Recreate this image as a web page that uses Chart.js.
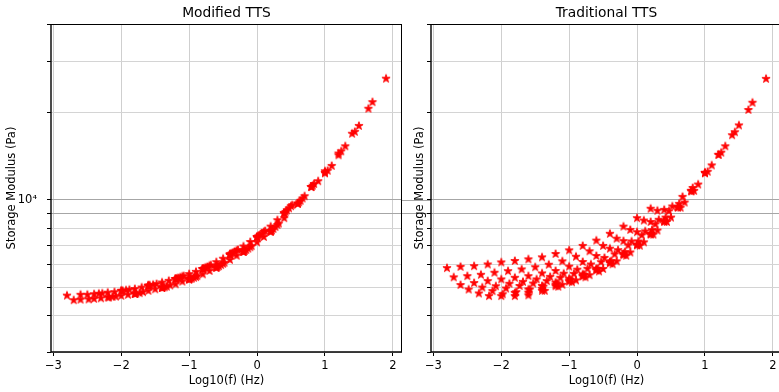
<!DOCTYPE html>
<html>
<head>
<meta charset="utf-8">
<script src="https://cdn.jsdelivr.net/npm/chart.js@4/dist/chart.umd.min.js"></script>
<style>
  html, body { margin: 0; padding: 0; background: #ffffff; width: 779px; height: 392px; overflow: hidden; }
  canvas { position: absolute; top: 0; }
  #cMod { left: 0px; }
  #cTrad { left: 380px; }
</style>
</head>
<body>
<canvas id="cMod" width="410" height="392"></canvas>
<canvas id="cTrad" width="410" height="392"></canvas>
<script>
// ---------------- DATA ----------------
const chartTitles = ['Modified TTS', 'Traditional TTS'];
const xAxisTitle = 'Log10(f) (Hz)';
const yAxisTitle = 'Storage Modulus (Pa)';
const xTickValues = [-3, -2, -1, 0, 1, 2];
const yTickValues = [3000, 4000, 5000, 6000, 7000, 8000, 9000, 10000, 20000, 30000, 40000];
const yTickLabels = ['', '', '', '', '', '', '', '10\u2074', '', '', ''];

// Each frequency sweep: log10(f) positions, traditional-shift modulus, modified-shift modulus
const rowA_x    = [-2.8, -2.6, -2.4, -2.2, -2.0, -1.8, -1.6, -1.4, -1.2, -1.0, -0.8, -0.6, -0.4, -0.2, 0.0, 0.2];
const rowA_trad = [5830, 5890, 5920, 6000, 6100, 6170, 6250, 6350, 6520, 6710, 6950, 7250, 7650, 8100, 8660, 9330];
const rowA_mod  = [4690, 4540, 4740, 4620, 4870, 4760, 5060, 5000, 5340, 5350, 5780, 5870, 6480, 6650, 7420, 7820];

const rowB_x    = [-2.7, -2.5, -2.3, -2.1, -1.9, -1.7, -1.5, -1.3, -1.1, -0.9, -0.7, -0.5, -0.3, -0.1, 0.1, 0.3];
const rowB_trad = [5420, 5470, 5530, 5620, 5690, 5770, 5870, 5990, 6150, 6380, 6660, 6950, 7360, 7890, 8500, 9180];
const rowB_mod  = [4520, 4720, 4590, 4820, 4720, 5000, 4930, 5270, 5240, 5660, 5700, 6280, 6430, 7170, 7460, 8520];

const rowC_x    = [-2.6, -2.4, -2.2, -2.0, -1.8, -1.6, -1.4, -1.2, -1.0, -0.8, -0.6, -0.4, -0.2, 0.0, 0.2, 0.4];
const rowC_trad = [5100, 5180, 5260, 5330, 5400, 5470, 5590, 5700, 5900, 6120, 6420, 6800, 7220, 7750, 8400, 9250];
const rowC_mod  = [4720, 4570, 4800, 4680, 4940, 4870, 5200, 5130, 5560, 5550, 6110, 6220, 6920, 7150, 8100, 8660];

const rowD_x    = [-2.48, -2.28, -2.08, -1.88, -1.68, -1.48, -1.28, -1.08, -0.88, -0.68, -0.48, -0.28, -0.08, 0.12, 0.32, 0.52];
const rowD_trad = [4920, 5000, 5050, 5150, 5230, 5330, 5440, 5580, 5760, 6000, 6320, 6720, 7200, 7800, 8550, 9500];
const rowD_mod  = [4550, 4770, 4650, 4910, 4820, 5140, 5080, 5470, 5470, 5960, 6080, 6730, 6940, 7820, 8300, 9600];

const rowE_x    = [-2.33, -2.13, -1.93, -1.73, -1.53, -1.33, -1.13, -0.93, -0.73, -0.53, -0.33, -0.13, 0.07, 0.27, 0.47, 0.67];
const rowE_trad = [4770, 4860, 4960, 5060, 5160, 5260, 5400, 5570, 5800, 6110, 6500, 6980, 7560, 8250, 9150, 10250];
const rowE_mod  = [4760, 4640, 4890, 4780, 5110, 5030, 5420, 5400, 5890, 5970, 6640, 6800, 7670, 8070, 9360, 10120];

const rowF_x    = [-2.18, -1.98, -1.78, -1.58, -1.38, -1.18, -0.98, -0.78, -0.58, -0.38, -0.18, 0.02, 0.22, 0.42, 0.62, 0.82];
const rowF_trad = [4670, 4740, 4820, 4920, 5030, 5160, 5320, 5530, 5800, 6160, 6620, 7200, 7880, 8700, 9700, 11000];
const rowF_mod  = [4620, 4870, 4760, 5080, 5000, 5360, 5350, 5810, 5890, 6530, 6680, 7510, 7860, 9100, 9820, 11200];

const rowG_x    = [-2.0, -1.8, -1.6, -1.4, -1.2, -1.0, -0.8, -0.6, -0.4, -0.2, 0.0, 0.2, 0.4, 0.6, 0.8, 1.0];
const rowG_trad = [4670, 4790, 4920, 5060, 5200, 5360, 5550, 5800, 6120, 6520, 7020, 7650, 8450, 9450, 10750, 12400];
const rowG_mod  = [4870, 4750, 5070, 4990, 5350, 5330, 5790, 5850, 6490, 6630, 7450, 7780, 9000, 9710, 11080, 12400];

const rowH_x    = [-1.8, -1.6, -1.4, -1.2, -1.0, -0.8, -0.6, -0.4, -0.2, 0.0, 0.2, 0.4, 0.6, 0.8, 1.0, 1.2];
const rowH_trad = [4670, 4800, 4950, 5110, 5280, 5480, 5740, 6060, 6460, 6980, 7600, 8400, 9400, 10700, 12350, 14300];
const rowH_mod  = [4750, 5070, 4990, 5350, 5330, 5790, 5850, 6490, 6630, 7450, 7780, 9000, 9710, 11080, 12350, 14450];

const rowI_x    = [-1.6, -1.4, -1.2, -1.0, -0.8, -0.6, -0.4, -0.2, 0.0, 0.2, 0.4, 0.6, 0.8, 1.0, 1.2, 1.4];
const rowI_trad = [4700, 4870, 5050, 5240, 5460, 5730, 6080, 6500, 7020, 7650, 8450, 9450, 10750, 12400, 14300, 16700];
const rowI_mod  = [5070, 4990, 5350, 5330, 5790, 5850, 6490, 6630, 7450, 7780, 9000, 9710, 11080, 12550, 14250, 16900];

const rowJ_x    = [-1.36, -1.16, -0.96, -0.76, -0.56, -0.36, -0.16, 0.04, 0.24, 0.44, 0.64, 0.84, 1.04, 1.24, 1.44, 1.64];
const rowJ_trad = [4870, 5030, 5210, 5420, 5680, 6010, 6430, 6960, 7600, 8400, 9400, 10750, 12500, 14550, 17100, 20400];
const rowJ_mod  = [5010, 5390, 5370, 5850, 5920, 6570, 6730, 7570, 7950, 9210, 9930, 11350, 12600, 14700, 17150, 20600];

const rowK_x    = [-1.1, -0.9, -0.7, -0.5, -0.3, -0.1, 0.1, 0.3, 0.5, 0.7, 0.9, 1.1, 1.3, 1.5, 1.7, 1.9];
const rowK_trad = [5110, 5290, 5510, 5790, 6150, 6600, 7150, 7850, 8700, 9800, 11300, 13150, 15300, 18050, 21600, 26100];
const rowK_mod  = [5450, 5430, 5940, 6030, 6700, 6880, 7770, 8200, 9520, 10300, 11600, 13100, 15300, 17980, 21700, 26140];

// ---------------- BUILD ----------------
const sweeps = [
  [rowA_x, rowA_trad, rowA_mod], [rowB_x, rowB_trad, rowB_mod], [rowC_x, rowC_trad, rowC_mod],
  [rowD_x, rowD_trad, rowD_mod], [rowE_x, rowE_trad, rowE_mod], [rowF_x, rowF_trad, rowF_mod],
  [rowG_x, rowG_trad, rowG_mod], [rowH_x, rowH_trad, rowH_mod], [rowI_x, rowI_trad, rowI_mod],
  [rowJ_x, rowJ_trad, rowJ_mod], [rowK_x, rowK_trad, rowK_mod]
];
const modPoints = sweeps.flatMap(([xs, t, m]) => xs.map((x, i) => ({ x: x, y: m[i] })));
const tradPoints = sweeps.flatMap(([xs, t, m]) => xs.map((x, i) => ({ x: x, y: t[i] })));

const FONT = 'DejaVu Sans';
const RED = '#ff0000';

function makeStar(r) {
  const s = Math.ceil(r * 2 + 3);
  const c = document.createElement('canvas');
  c.width = s; c.height = s;
  const g = c.getContext('2d');
  g.beginPath();
  for (let i = 0; i < 10; i++) {
    const a = -Math.PI / 2 + i * Math.PI / 5;
    const rr = (i % 2 === 0) ? r : r * 0.381966;
    g.lineTo(s / 2 + rr * Math.cos(a), s / 2 + rr * Math.sin(a));
  }
  g.closePath();
  g.fillStyle = RED; g.fill();
  g.strokeStyle = RED; g.lineWidth = 0.9; g.lineJoin = 'miter'; g.stroke();
  return c;
}
const starImg = makeStar(4.3);

const framePlugin = {
  id: 'frame',
  afterDatasetsDraw(chart) {
    const { ctx, chartArea: a } = chart;
    ctx.save();
    ctx.strokeStyle = '#000';
    ctx.lineWidth = 1;
    ctx.beginPath();
    ctx.moveTo(a.left, a.top + 0.5); ctx.lineTo(a.right, a.top + 0.5);
    ctx.moveTo(a.right - 0.5, a.top); ctx.lineTo(a.right - 0.5, a.bottom);
    ctx.stroke();
    ctx.lineWidth = 1.4;
    ctx.beginPath();
    ctx.moveTo(a.left, a.top); ctx.lineTo(a.left, a.bottom + 0.7);
    ctx.moveTo(a.left - 0.7, a.bottom); ctx.lineTo(a.right, a.bottom);
    ctx.stroke();
    ctx.restore();
  }
};

const gapLinesPlugin = {
  id: 'gapLines',
  beforeDraw(chart) {
    const { ctx, chartArea: a } = chart;
    const ys = chart.scales.y;
    ctx.save();
    ctx.strokeStyle = '#a6a6a6';
    ctx.lineWidth = 1;
    [10000, 9000].forEach(v => {
      const py = Math.round(ys.getPixelForValue(v)) + 0.5;
      ctx.beginPath(); ctx.moveTo(a.left - 29, py); ctx.lineTo(a.left, py); ctx.stroke();
    });
    ctx.restore();
  }
};

function fmtX(v) { return v < 0 ? '\u2212' + Math.abs(v) : String(v); }

function makeChart(id, title, points, showYLabels, yTitlePad, extraPlugins) {
  return new Chart(document.getElementById(id), {
    type: 'scatter',
    data: { datasets: [{ data: points, pointStyle: starImg, pointRadius: 5, backgroundColor: RED, borderColor: RED, showLine: false }] },
    options: {
      responsive: false, animation: false, devicePixelRatio: 1,
      layout: { padding: { left: 0, right: 8, top: 0, bottom: 0 } },
      plugins: {
        legend: { display: false }, tooltip: { enabled: false },
        title: { display: true, text: title, fullSize: false, color: '#000',
          font: { family: FONT, size: 13.8, weight: 'normal', lineHeight: 1.2 },
          padding: { top: 5.2, bottom: 2.24 } }
      },
      scales: {
        x: {
          type: 'linear', position: 'bottom', min: -3.035, max: 2.135,
          afterBuildTicks: s => { s.ticks = xTickValues.map(v => ({ value: v })); },
          afterFit: s => { s.height = 40; },
          ticks: { autoSkip: false, maxRotation: 0, color: '#000', padding: 3,
            font: { family: FONT, size: 11.5 }, callback: v => fmtX(v) },
          grid: { color: '#cfcfcf', lineWidth: 1, tickColor: '#000', tickLength: 4, tickWidth: 1 },
          border: { display: false },
          title: { display: true, text: xAxisTitle, color: '#000',
            font: { family: FONT, size: 11.5, lineHeight: 1.2 }, padding: { top: 0, bottom: 4.1 } }
        },
        y: {
          type: 'logarithmic', position: 'left', min: 3000, max: 40300,
          afterBuildTicks: s => { s.ticks = yTickValues.map(v => ({ value: v })); },
          afterFit: s => { s.width = 51; },
          ticks: { autoSkip: false, color: '#000', padding: 10,
            font: { family: FONT, size: 11.5 },
            callback: (v, i) => showYLabels ? yTickLabels[i] : '' },
          grid: {
            color: c => (c.tick && (c.tick.value === 10000 || c.tick.value === 9000)) ? '#a6a6a6' : '#d4d4d4',
            lineWidth: 1, tickColor: '#000', tickLength: 4, tickWidth: 1
          },
          border: { display: false },
          title: { display: true, text: yAxisTitle, color: '#000',
            font: { family: FONT, size: 11.5, lineHeight: 1.2 }, padding: { top: yTitlePad, bottom: 0 } }
        }
      }
    },
    plugins: [framePlugin].concat(extraPlugins)
  });
}

makeChart('cMod', chartTitles[0], modPoints, true, 4.8, []);
makeChart('cTrad', chartTitles[1], tradPoints, false, 33.1, [gapLinesPlugin]);
</script>
</body>
</html>
